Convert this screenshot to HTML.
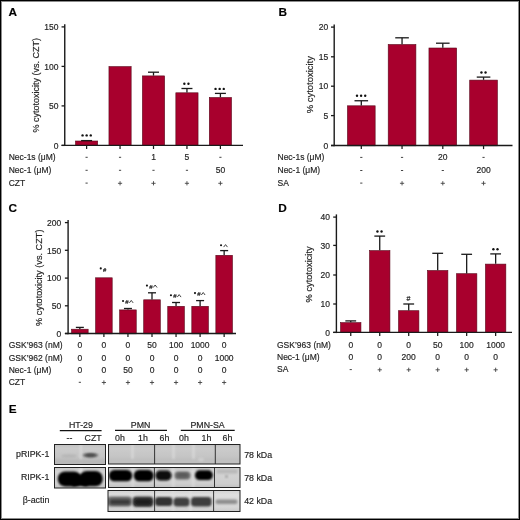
<!DOCTYPE html>
<html><head><meta charset="utf-8"><style>
html,body{margin:0;padding:0;background:#fff;}
body{width:520px;height:520px;overflow:hidden;position:relative;}
svg{position:absolute;left:0;top:0;display:block;will-change:transform;}
text{stroke:#2a2a2a;stroke-width:0.18px;}
</style></head><body>
<svg width="520" height="520" viewBox="0 0 520 520" font-family="'Liberation Sans', sans-serif">
<rect x="0" y="0" width="520" height="520" fill="#fff"/>
<line x1="61.55" y1="145.40" x2="64.75" y2="145.40" stroke="#1a1a1a" stroke-width="1.3"/>
<text x="58.50" y="148.60" font-size="8.5" text-anchor="end" font-weight="normal" fill="#1e1e1e" >0</text>
<line x1="61.55" y1="105.90" x2="64.75" y2="105.90" stroke="#1a1a1a" stroke-width="1.3"/>
<text x="58.50" y="109.10" font-size="8.5" text-anchor="end" font-weight="normal" fill="#1e1e1e" >50</text>
<line x1="61.55" y1="66.40" x2="64.75" y2="66.40" stroke="#1a1a1a" stroke-width="1.3"/>
<text x="58.50" y="69.60" font-size="8.5" text-anchor="end" font-weight="normal" fill="#1e1e1e" >100</text>
<line x1="61.55" y1="26.90" x2="64.75" y2="26.90" stroke="#1a1a1a" stroke-width="1.3"/>
<text x="58.50" y="30.10" font-size="8.5" text-anchor="end" font-weight="normal" fill="#1e1e1e" >150</text>
<rect x="75.50" y="141.00" width="22.20" height="4.70" fill="#a8002d" stroke="#58081a" stroke-width="0.6"/>
<line x1="86.60" y1="140.70" x2="86.60" y2="140.60" stroke="#1a1a1a" stroke-width="1.3"/>
<line x1="81.10" y1="140.60" x2="92.10" y2="140.60" stroke="#1a1a1a" stroke-width="1.3"/>
<line x1="86.60" y1="145.40" x2="86.60" y2="149.00" stroke="#1a1a1a" stroke-width="1.25"/>
<rect x="108.95" y="66.60" width="22.20" height="79.10" fill="#a8002d" stroke="#58081a" stroke-width="0.6"/>
<line x1="120.05" y1="145.40" x2="120.05" y2="149.00" stroke="#1a1a1a" stroke-width="1.25"/>
<rect x="142.40" y="75.90" width="22.20" height="69.80" fill="#a8002d" stroke="#58081a" stroke-width="0.6"/>
<line x1="153.50" y1="75.60" x2="153.50" y2="72.20" stroke="#1a1a1a" stroke-width="1.3"/>
<line x1="148.00" y1="72.20" x2="159.00" y2="72.20" stroke="#1a1a1a" stroke-width="1.3"/>
<line x1="153.50" y1="145.40" x2="153.50" y2="149.00" stroke="#1a1a1a" stroke-width="1.25"/>
<rect x="175.85" y="92.80" width="22.20" height="52.90" fill="#a8002d" stroke="#58081a" stroke-width="0.6"/>
<line x1="186.95" y1="92.50" x2="186.95" y2="88.50" stroke="#1a1a1a" stroke-width="1.3"/>
<line x1="181.45" y1="88.50" x2="192.45" y2="88.50" stroke="#1a1a1a" stroke-width="1.3"/>
<line x1="186.95" y1="145.40" x2="186.95" y2="149.00" stroke="#1a1a1a" stroke-width="1.25"/>
<rect x="209.30" y="97.50" width="22.20" height="48.20" fill="#a8002d" stroke="#58081a" stroke-width="0.6"/>
<line x1="220.40" y1="97.20" x2="220.40" y2="93.40" stroke="#1a1a1a" stroke-width="1.3"/>
<line x1="214.90" y1="93.40" x2="225.90" y2="93.40" stroke="#1a1a1a" stroke-width="1.3"/>
<line x1="220.40" y1="145.40" x2="220.40" y2="149.00" stroke="#1a1a1a" stroke-width="1.25"/>
<line x1="64.75" y1="24.20" x2="64.75" y2="146.10" stroke="#1a1a1a" stroke-width="1.4"/>
<line x1="61.55" y1="145.40" x2="243.00" y2="145.40" stroke="#1a1a1a" stroke-width="1.4"/>
<text transform="translate(38.7,85.2) rotate(-90)" font-size="9.0" text-anchor="middle" fill="#1e1e1e">% cytotoxicity (vs. CZT)</text>
<text x="8.60" y="16.10" font-size="11.8" text-anchor="start" font-weight="bold" fill="#000" >A</text>
<text x="8.70" y="159.70" font-size="8.5" text-anchor="start" font-weight="normal" fill="#1e1e1e" >Nec-1s (μM)</text>
<line x1="85.50" y1="157.30" x2="87.70" y2="157.30" stroke="#444" stroke-width="1.0"/>
<line x1="118.95" y1="157.30" x2="121.15" y2="157.30" stroke="#444" stroke-width="1.0"/>
<text x="153.50" y="159.70" font-size="8.5" text-anchor="middle" font-weight="normal" fill="#1e1e1e" >1</text>
<text x="186.95" y="159.70" font-size="8.5" text-anchor="middle" font-weight="normal" fill="#1e1e1e" >5</text>
<line x1="219.30" y1="157.30" x2="221.50" y2="157.30" stroke="#444" stroke-width="1.0"/>
<text x="8.70" y="172.70" font-size="8.5" text-anchor="start" font-weight="normal" fill="#1e1e1e" >Nec-1 (μM)</text>
<line x1="85.50" y1="170.30" x2="87.70" y2="170.30" stroke="#444" stroke-width="1.0"/>
<line x1="118.95" y1="170.30" x2="121.15" y2="170.30" stroke="#444" stroke-width="1.0"/>
<line x1="152.40" y1="170.30" x2="154.60" y2="170.30" stroke="#444" stroke-width="1.0"/>
<line x1="185.85" y1="170.30" x2="188.05" y2="170.30" stroke="#444" stroke-width="1.0"/>
<text x="220.40" y="172.70" font-size="8.5" text-anchor="middle" font-weight="normal" fill="#1e1e1e" >50</text>
<text x="8.70" y="185.50" font-size="8.5" text-anchor="start" font-weight="normal" fill="#1e1e1e" >CZT</text>
<line x1="85.50" y1="183.10" x2="87.70" y2="183.10" stroke="#444" stroke-width="1.0"/>
<line x1="117.95" y1="183.30" x2="122.15" y2="183.30" stroke="#444" stroke-width="0.9"/>
<line x1="120.05" y1="181.20" x2="120.05" y2="185.40" stroke="#444" stroke-width="0.9"/>
<line x1="151.40" y1="183.30" x2="155.60" y2="183.30" stroke="#444" stroke-width="0.9"/>
<line x1="153.50" y1="181.20" x2="153.50" y2="185.40" stroke="#444" stroke-width="0.9"/>
<line x1="184.85" y1="183.30" x2="189.05" y2="183.30" stroke="#444" stroke-width="0.9"/>
<line x1="186.95" y1="181.20" x2="186.95" y2="185.40" stroke="#444" stroke-width="0.9"/>
<line x1="218.30" y1="183.30" x2="222.50" y2="183.30" stroke="#444" stroke-width="0.9"/>
<line x1="220.40" y1="181.20" x2="220.40" y2="185.40" stroke="#444" stroke-width="0.9"/>
<line x1="331.00" y1="145.50" x2="334.20" y2="145.50" stroke="#1a1a1a" stroke-width="1.3"/>
<text x="328.30" y="148.70" font-size="8.5" text-anchor="end" font-weight="normal" fill="#1e1e1e" >0</text>
<line x1="331.00" y1="115.60" x2="334.20" y2="115.60" stroke="#1a1a1a" stroke-width="1.3"/>
<text x="328.30" y="118.80" font-size="8.5" text-anchor="end" font-weight="normal" fill="#1e1e1e" >5</text>
<line x1="331.00" y1="86.20" x2="334.20" y2="86.20" stroke="#1a1a1a" stroke-width="1.3"/>
<text x="328.30" y="89.40" font-size="8.5" text-anchor="end" font-weight="normal" fill="#1e1e1e" >10</text>
<line x1="331.00" y1="56.80" x2="334.20" y2="56.80" stroke="#1a1a1a" stroke-width="1.3"/>
<text x="328.30" y="60.00" font-size="8.5" text-anchor="end" font-weight="normal" fill="#1e1e1e" >15</text>
<line x1="331.00" y1="27.10" x2="334.20" y2="27.10" stroke="#1a1a1a" stroke-width="1.3"/>
<text x="328.30" y="30.30" font-size="8.5" text-anchor="end" font-weight="normal" fill="#1e1e1e" >20</text>
<rect x="347.45" y="105.80" width="27.70" height="40.00" fill="#a8002d" stroke="#58081a" stroke-width="0.6"/>
<line x1="361.30" y1="105.50" x2="361.30" y2="100.75" stroke="#1a1a1a" stroke-width="1.3"/>
<line x1="354.50" y1="100.75" x2="368.10" y2="100.75" stroke="#1a1a1a" stroke-width="1.3"/>
<line x1="361.30" y1="145.50" x2="361.30" y2="149.10" stroke="#1a1a1a" stroke-width="1.25"/>
<rect x="388.20" y="44.50" width="27.70" height="101.30" fill="#a8002d" stroke="#58081a" stroke-width="0.6"/>
<line x1="402.05" y1="44.20" x2="402.05" y2="37.80" stroke="#1a1a1a" stroke-width="1.3"/>
<line x1="395.25" y1="37.80" x2="408.85" y2="37.80" stroke="#1a1a1a" stroke-width="1.3"/>
<line x1="402.05" y1="145.50" x2="402.05" y2="149.10" stroke="#1a1a1a" stroke-width="1.25"/>
<rect x="428.95" y="48.00" width="27.70" height="97.80" fill="#a8002d" stroke="#58081a" stroke-width="0.6"/>
<line x1="442.80" y1="47.70" x2="442.80" y2="43.20" stroke="#1a1a1a" stroke-width="1.3"/>
<line x1="436.00" y1="43.20" x2="449.60" y2="43.20" stroke="#1a1a1a" stroke-width="1.3"/>
<line x1="442.80" y1="145.50" x2="442.80" y2="149.10" stroke="#1a1a1a" stroke-width="1.25"/>
<rect x="469.70" y="80.10" width="27.70" height="65.70" fill="#a8002d" stroke="#58081a" stroke-width="0.6"/>
<line x1="483.55" y1="79.80" x2="483.55" y2="77.10" stroke="#1a1a1a" stroke-width="1.3"/>
<line x1="476.75" y1="77.10" x2="490.35" y2="77.10" stroke="#1a1a1a" stroke-width="1.3"/>
<line x1="483.55" y1="145.50" x2="483.55" y2="149.10" stroke="#1a1a1a" stroke-width="1.25"/>
<line x1="334.20" y1="24.40" x2="334.20" y2="146.20" stroke="#1a1a1a" stroke-width="1.4"/>
<line x1="331.00" y1="145.50" x2="512.50" y2="145.50" stroke="#1a1a1a" stroke-width="1.4"/>
<text transform="translate(313.2,84.7) rotate(-90)" font-size="9.45" text-anchor="middle" fill="#1e1e1e">% cytotoxicity</text>
<text x="278.40" y="16.20" font-size="11.8" text-anchor="start" font-weight="bold" fill="#000" >B</text>
<text x="277.50" y="159.80" font-size="8.5" text-anchor="start" font-weight="normal" fill="#1e1e1e" >Nec-1s (μM)</text>
<line x1="360.20" y1="157.40" x2="362.40" y2="157.40" stroke="#444" stroke-width="1.0"/>
<line x1="400.95" y1="157.40" x2="403.15" y2="157.40" stroke="#444" stroke-width="1.0"/>
<text x="442.80" y="159.80" font-size="8.5" text-anchor="middle" font-weight="normal" fill="#1e1e1e" >20</text>
<line x1="482.45" y1="157.40" x2="484.65" y2="157.40" stroke="#444" stroke-width="1.0"/>
<text x="277.50" y="172.90" font-size="8.5" text-anchor="start" font-weight="normal" fill="#1e1e1e" >Nec-1 (μM)</text>
<line x1="360.20" y1="170.50" x2="362.40" y2="170.50" stroke="#444" stroke-width="1.0"/>
<line x1="400.95" y1="170.50" x2="403.15" y2="170.50" stroke="#444" stroke-width="1.0"/>
<line x1="441.70" y1="170.50" x2="443.90" y2="170.50" stroke="#444" stroke-width="1.0"/>
<text x="483.55" y="172.90" font-size="8.5" text-anchor="middle" font-weight="normal" fill="#1e1e1e" >200</text>
<text x="277.50" y="185.50" font-size="8.5" text-anchor="start" font-weight="normal" fill="#1e1e1e" >SA</text>
<line x1="360.20" y1="183.10" x2="362.40" y2="183.10" stroke="#444" stroke-width="1.0"/>
<line x1="399.95" y1="183.30" x2="404.15" y2="183.30" stroke="#444" stroke-width="0.9"/>
<line x1="402.05" y1="181.20" x2="402.05" y2="185.40" stroke="#444" stroke-width="0.9"/>
<line x1="440.70" y1="183.30" x2="444.90" y2="183.30" stroke="#444" stroke-width="0.9"/>
<line x1="442.80" y1="181.20" x2="442.80" y2="185.40" stroke="#444" stroke-width="0.9"/>
<line x1="481.45" y1="183.30" x2="485.65" y2="183.30" stroke="#444" stroke-width="0.9"/>
<line x1="483.55" y1="181.20" x2="483.55" y2="185.40" stroke="#444" stroke-width="0.9"/>
<line x1="64.90" y1="333.50" x2="68.10" y2="333.50" stroke="#1a1a1a" stroke-width="1.3"/>
<text x="61.30" y="336.70" font-size="8.5" text-anchor="end" font-weight="normal" fill="#1e1e1e" >0</text>
<line x1="64.90" y1="305.80" x2="68.10" y2="305.80" stroke="#1a1a1a" stroke-width="1.3"/>
<text x="61.30" y="309.00" font-size="8.5" text-anchor="end" font-weight="normal" fill="#1e1e1e" >50</text>
<line x1="64.90" y1="278.10" x2="68.10" y2="278.10" stroke="#1a1a1a" stroke-width="1.3"/>
<text x="61.30" y="281.30" font-size="8.5" text-anchor="end" font-weight="normal" fill="#1e1e1e" >100</text>
<line x1="64.90" y1="250.30" x2="68.10" y2="250.30" stroke="#1a1a1a" stroke-width="1.3"/>
<text x="61.30" y="253.50" font-size="8.5" text-anchor="end" font-weight="normal" fill="#1e1e1e" >150</text>
<line x1="64.90" y1="222.60" x2="68.10" y2="222.60" stroke="#1a1a1a" stroke-width="1.3"/>
<text x="61.30" y="225.80" font-size="8.5" text-anchor="end" font-weight="normal" fill="#1e1e1e" >200</text>
<rect x="71.55" y="329.20" width="16.60" height="4.60" fill="#a8002d" stroke="#58081a" stroke-width="0.6"/>
<line x1="79.85" y1="328.90" x2="79.85" y2="327.40" stroke="#1a1a1a" stroke-width="1.3"/>
<line x1="75.85" y1="327.40" x2="83.85" y2="327.40" stroke="#1a1a1a" stroke-width="1.3"/>
<line x1="79.85" y1="333.50" x2="79.85" y2="337.10" stroke="#1a1a1a" stroke-width="1.25"/>
<rect x="95.60" y="277.80" width="16.60" height="56.00" fill="#a8002d" stroke="#58081a" stroke-width="0.6"/>
<line x1="103.90" y1="333.50" x2="103.90" y2="337.10" stroke="#1a1a1a" stroke-width="1.25"/>
<rect x="119.65" y="309.90" width="16.60" height="23.90" fill="#a8002d" stroke="#58081a" stroke-width="0.6"/>
<line x1="127.95" y1="309.60" x2="127.95" y2="308.50" stroke="#1a1a1a" stroke-width="1.3"/>
<line x1="123.95" y1="308.50" x2="131.95" y2="308.50" stroke="#1a1a1a" stroke-width="1.3"/>
<line x1="127.95" y1="333.50" x2="127.95" y2="337.10" stroke="#1a1a1a" stroke-width="1.25"/>
<rect x="143.70" y="299.80" width="16.60" height="34.00" fill="#a8002d" stroke="#58081a" stroke-width="0.6"/>
<line x1="152.00" y1="299.50" x2="152.00" y2="292.80" stroke="#1a1a1a" stroke-width="1.3"/>
<line x1="148.00" y1="292.80" x2="156.00" y2="292.80" stroke="#1a1a1a" stroke-width="1.3"/>
<line x1="152.00" y1="333.50" x2="152.00" y2="337.10" stroke="#1a1a1a" stroke-width="1.25"/>
<rect x="167.75" y="306.30" width="16.60" height="27.50" fill="#a8002d" stroke="#58081a" stroke-width="0.6"/>
<line x1="176.05" y1="306.00" x2="176.05" y2="302.50" stroke="#1a1a1a" stroke-width="1.3"/>
<line x1="172.05" y1="302.50" x2="180.05" y2="302.50" stroke="#1a1a1a" stroke-width="1.3"/>
<line x1="176.05" y1="333.50" x2="176.05" y2="337.10" stroke="#1a1a1a" stroke-width="1.25"/>
<rect x="191.80" y="306.30" width="16.60" height="27.50" fill="#a8002d" stroke="#58081a" stroke-width="0.6"/>
<line x1="200.10" y1="306.00" x2="200.10" y2="300.60" stroke="#1a1a1a" stroke-width="1.3"/>
<line x1="196.10" y1="300.60" x2="204.10" y2="300.60" stroke="#1a1a1a" stroke-width="1.3"/>
<line x1="200.10" y1="333.50" x2="200.10" y2="337.10" stroke="#1a1a1a" stroke-width="1.25"/>
<rect x="215.85" y="255.30" width="16.60" height="78.50" fill="#a8002d" stroke="#58081a" stroke-width="0.6"/>
<line x1="224.15" y1="255.00" x2="224.15" y2="250.60" stroke="#1a1a1a" stroke-width="1.3"/>
<line x1="220.15" y1="250.60" x2="228.15" y2="250.60" stroke="#1a1a1a" stroke-width="1.3"/>
<line x1="224.15" y1="333.50" x2="224.15" y2="337.10" stroke="#1a1a1a" stroke-width="1.25"/>
<line x1="68.10" y1="219.90" x2="68.10" y2="334.20" stroke="#1a1a1a" stroke-width="1.4"/>
<line x1="64.90" y1="333.50" x2="236.00" y2="333.50" stroke="#1a1a1a" stroke-width="1.4"/>
<text transform="translate(42.2,277.7) rotate(-90)" font-size="9.2" text-anchor="middle" fill="#1e1e1e">% cytotoxicity (vs. CZT)</text>
<text x="8.50" y="212.00" font-size="11.8" text-anchor="start" font-weight="bold" fill="#000" >C</text>
<text x="8.70" y="347.50" font-size="8.5" text-anchor="start" font-weight="normal" fill="#1e1e1e" >GSK’963 (nM)</text>
<text x="79.85" y="347.50" font-size="8.5" text-anchor="middle" font-weight="normal" fill="#1e1e1e" >0</text>
<text x="103.90" y="347.50" font-size="8.5" text-anchor="middle" font-weight="normal" fill="#1e1e1e" >0</text>
<text x="127.95" y="347.50" font-size="8.5" text-anchor="middle" font-weight="normal" fill="#1e1e1e" >0</text>
<text x="152.00" y="347.50" font-size="8.5" text-anchor="middle" font-weight="normal" fill="#1e1e1e" >50</text>
<text x="176.05" y="347.50" font-size="8.5" text-anchor="middle" font-weight="normal" fill="#1e1e1e" >100</text>
<text x="200.10" y="347.50" font-size="8.5" text-anchor="middle" font-weight="normal" fill="#1e1e1e" >1000</text>
<text x="224.15" y="347.50" font-size="8.5" text-anchor="middle" font-weight="normal" fill="#1e1e1e" >0</text>
<text x="8.70" y="360.50" font-size="8.5" text-anchor="start" font-weight="normal" fill="#1e1e1e" >GSK’962 (nM)</text>
<text x="79.85" y="360.50" font-size="8.5" text-anchor="middle" font-weight="normal" fill="#1e1e1e" >0</text>
<text x="103.90" y="360.50" font-size="8.5" text-anchor="middle" font-weight="normal" fill="#1e1e1e" >0</text>
<text x="127.95" y="360.50" font-size="8.5" text-anchor="middle" font-weight="normal" fill="#1e1e1e" >0</text>
<text x="152.00" y="360.50" font-size="8.5" text-anchor="middle" font-weight="normal" fill="#1e1e1e" >0</text>
<text x="176.05" y="360.50" font-size="8.5" text-anchor="middle" font-weight="normal" fill="#1e1e1e" >0</text>
<text x="200.10" y="360.50" font-size="8.5" text-anchor="middle" font-weight="normal" fill="#1e1e1e" >0</text>
<text x="224.15" y="360.50" font-size="8.5" text-anchor="middle" font-weight="normal" fill="#1e1e1e" >1000</text>
<text x="8.70" y="372.50" font-size="8.5" text-anchor="start" font-weight="normal" fill="#1e1e1e" >Nec-1 (μM)</text>
<text x="79.85" y="372.50" font-size="8.5" text-anchor="middle" font-weight="normal" fill="#1e1e1e" >0</text>
<text x="103.90" y="372.50" font-size="8.5" text-anchor="middle" font-weight="normal" fill="#1e1e1e" >0</text>
<text x="127.95" y="372.50" font-size="8.5" text-anchor="middle" font-weight="normal" fill="#1e1e1e" >50</text>
<text x="152.00" y="372.50" font-size="8.5" text-anchor="middle" font-weight="normal" fill="#1e1e1e" >0</text>
<text x="176.05" y="372.50" font-size="8.5" text-anchor="middle" font-weight="normal" fill="#1e1e1e" >0</text>
<text x="200.10" y="372.50" font-size="8.5" text-anchor="middle" font-weight="normal" fill="#1e1e1e" >0</text>
<text x="224.15" y="372.50" font-size="8.5" text-anchor="middle" font-weight="normal" fill="#1e1e1e" >0</text>
<text x="8.70" y="384.70" font-size="8.5" text-anchor="start" font-weight="normal" fill="#1e1e1e" >CZT</text>
<line x1="78.75" y1="382.30" x2="80.95" y2="382.30" stroke="#444" stroke-width="1.0"/>
<line x1="101.80" y1="382.50" x2="106.00" y2="382.50" stroke="#444" stroke-width="0.9"/>
<line x1="103.90" y1="380.40" x2="103.90" y2="384.60" stroke="#444" stroke-width="0.9"/>
<line x1="125.85" y1="382.50" x2="130.05" y2="382.50" stroke="#444" stroke-width="0.9"/>
<line x1="127.95" y1="380.40" x2="127.95" y2="384.60" stroke="#444" stroke-width="0.9"/>
<line x1="149.90" y1="382.50" x2="154.10" y2="382.50" stroke="#444" stroke-width="0.9"/>
<line x1="152.00" y1="380.40" x2="152.00" y2="384.60" stroke="#444" stroke-width="0.9"/>
<line x1="173.95" y1="382.50" x2="178.15" y2="382.50" stroke="#444" stroke-width="0.9"/>
<line x1="176.05" y1="380.40" x2="176.05" y2="384.60" stroke="#444" stroke-width="0.9"/>
<line x1="198.00" y1="382.50" x2="202.20" y2="382.50" stroke="#444" stroke-width="0.9"/>
<line x1="200.10" y1="380.40" x2="200.10" y2="384.60" stroke="#444" stroke-width="0.9"/>
<line x1="222.05" y1="382.50" x2="226.25" y2="382.50" stroke="#444" stroke-width="0.9"/>
<line x1="224.15" y1="380.40" x2="224.15" y2="384.60" stroke="#444" stroke-width="0.9"/>
<line x1="333.20" y1="332.40" x2="336.40" y2="332.40" stroke="#1a1a1a" stroke-width="1.3"/>
<text x="329.90" y="335.60" font-size="8.5" text-anchor="end" font-weight="normal" fill="#1e1e1e" >0</text>
<line x1="333.20" y1="304.00" x2="336.40" y2="304.00" stroke="#1a1a1a" stroke-width="1.3"/>
<text x="329.90" y="307.20" font-size="8.5" text-anchor="end" font-weight="normal" fill="#1e1e1e" >10</text>
<line x1="333.20" y1="275.00" x2="336.40" y2="275.00" stroke="#1a1a1a" stroke-width="1.3"/>
<text x="329.90" y="278.20" font-size="8.5" text-anchor="end" font-weight="normal" fill="#1e1e1e" >20</text>
<line x1="333.20" y1="245.40" x2="336.40" y2="245.40" stroke="#1a1a1a" stroke-width="1.3"/>
<text x="329.90" y="248.60" font-size="8.5" text-anchor="end" font-weight="normal" fill="#1e1e1e" >30</text>
<line x1="333.20" y1="217.10" x2="336.40" y2="217.10" stroke="#1a1a1a" stroke-width="1.3"/>
<text x="329.90" y="220.30" font-size="8.5" text-anchor="end" font-weight="normal" fill="#1e1e1e" >40</text>
<rect x="340.55" y="322.60" width="20.40" height="10.10" fill="#a8002d" stroke="#58081a" stroke-width="0.6"/>
<line x1="350.75" y1="322.30" x2="350.75" y2="320.90" stroke="#1a1a1a" stroke-width="1.3"/>
<line x1="345.35" y1="320.90" x2="356.15" y2="320.90" stroke="#1a1a1a" stroke-width="1.3"/>
<line x1="350.75" y1="332.40" x2="350.75" y2="336.00" stroke="#1a1a1a" stroke-width="1.25"/>
<rect x="369.53" y="250.60" width="20.40" height="82.10" fill="#a8002d" stroke="#58081a" stroke-width="0.6"/>
<line x1="379.73" y1="250.30" x2="379.73" y2="236.10" stroke="#1a1a1a" stroke-width="1.3"/>
<line x1="374.33" y1="236.10" x2="385.13" y2="236.10" stroke="#1a1a1a" stroke-width="1.3"/>
<line x1="379.73" y1="332.40" x2="379.73" y2="336.00" stroke="#1a1a1a" stroke-width="1.25"/>
<rect x="398.51" y="310.70" width="20.40" height="22.00" fill="#a8002d" stroke="#58081a" stroke-width="0.6"/>
<line x1="408.71" y1="310.40" x2="408.71" y2="304.00" stroke="#1a1a1a" stroke-width="1.3"/>
<line x1="403.31" y1="304.00" x2="414.11" y2="304.00" stroke="#1a1a1a" stroke-width="1.3"/>
<line x1="408.71" y1="332.40" x2="408.71" y2="336.00" stroke="#1a1a1a" stroke-width="1.25"/>
<rect x="427.49" y="270.50" width="20.40" height="62.20" fill="#a8002d" stroke="#58081a" stroke-width="0.6"/>
<line x1="437.69" y1="270.20" x2="437.69" y2="253.30" stroke="#1a1a1a" stroke-width="1.3"/>
<line x1="432.29" y1="253.30" x2="443.09" y2="253.30" stroke="#1a1a1a" stroke-width="1.3"/>
<line x1="437.69" y1="332.40" x2="437.69" y2="336.00" stroke="#1a1a1a" stroke-width="1.25"/>
<rect x="456.47" y="273.70" width="20.40" height="59.00" fill="#a8002d" stroke="#58081a" stroke-width="0.6"/>
<line x1="466.67" y1="273.40" x2="466.67" y2="254.30" stroke="#1a1a1a" stroke-width="1.3"/>
<line x1="461.27" y1="254.30" x2="472.07" y2="254.30" stroke="#1a1a1a" stroke-width="1.3"/>
<line x1="466.67" y1="332.40" x2="466.67" y2="336.00" stroke="#1a1a1a" stroke-width="1.25"/>
<rect x="485.45" y="264.10" width="20.40" height="68.60" fill="#a8002d" stroke="#58081a" stroke-width="0.6"/>
<line x1="495.65" y1="263.80" x2="495.65" y2="253.90" stroke="#1a1a1a" stroke-width="1.3"/>
<line x1="490.25" y1="253.90" x2="501.05" y2="253.90" stroke="#1a1a1a" stroke-width="1.3"/>
<line x1="495.65" y1="332.40" x2="495.65" y2="336.00" stroke="#1a1a1a" stroke-width="1.25"/>
<line x1="336.40" y1="214.40" x2="336.40" y2="333.10" stroke="#1a1a1a" stroke-width="1.4"/>
<line x1="333.20" y1="332.40" x2="512.00" y2="332.40" stroke="#1a1a1a" stroke-width="1.4"/>
<text transform="translate(311.8,274.4) rotate(-90)" font-size="9.25" text-anchor="middle" fill="#1e1e1e">% cytotoxicity</text>
<text x="278.30" y="211.80" font-size="11.8" text-anchor="start" font-weight="bold" fill="#000" >D</text>
<text x="277.00" y="347.50" font-size="8.5" text-anchor="start" font-weight="normal" fill="#1e1e1e" >GSK’963 (nM)</text>
<text x="350.75" y="347.50" font-size="8.5" text-anchor="middle" font-weight="normal" fill="#1e1e1e" >0</text>
<text x="379.73" y="347.50" font-size="8.5" text-anchor="middle" font-weight="normal" fill="#1e1e1e" >0</text>
<text x="408.71" y="347.50" font-size="8.5" text-anchor="middle" font-weight="normal" fill="#1e1e1e" >0</text>
<text x="437.69" y="347.50" font-size="8.5" text-anchor="middle" font-weight="normal" fill="#1e1e1e" >50</text>
<text x="466.67" y="347.50" font-size="8.5" text-anchor="middle" font-weight="normal" fill="#1e1e1e" >100</text>
<text x="495.65" y="347.50" font-size="8.5" text-anchor="middle" font-weight="normal" fill="#1e1e1e" >1000</text>
<text x="277.00" y="360.00" font-size="8.5" text-anchor="start" font-weight="normal" fill="#1e1e1e" >Nec-1 (μM)</text>
<text x="350.75" y="360.00" font-size="8.5" text-anchor="middle" font-weight="normal" fill="#1e1e1e" >0</text>
<text x="379.73" y="360.00" font-size="8.5" text-anchor="middle" font-weight="normal" fill="#1e1e1e" >0</text>
<text x="408.71" y="360.00" font-size="8.5" text-anchor="middle" font-weight="normal" fill="#1e1e1e" >200</text>
<text x="437.69" y="360.00" font-size="8.5" text-anchor="middle" font-weight="normal" fill="#1e1e1e" >0</text>
<text x="466.67" y="360.00" font-size="8.5" text-anchor="middle" font-weight="normal" fill="#1e1e1e" >0</text>
<text x="495.65" y="360.00" font-size="8.5" text-anchor="middle" font-weight="normal" fill="#1e1e1e" >0</text>
<text x="277.00" y="372.00" font-size="8.5" text-anchor="start" font-weight="normal" fill="#1e1e1e" >SA</text>
<line x1="349.65" y1="369.60" x2="351.85" y2="369.60" stroke="#444" stroke-width="1.0"/>
<line x1="377.63" y1="369.80" x2="381.83" y2="369.80" stroke="#444" stroke-width="0.9"/>
<line x1="379.73" y1="367.70" x2="379.73" y2="371.90" stroke="#444" stroke-width="0.9"/>
<line x1="406.61" y1="369.80" x2="410.81" y2="369.80" stroke="#444" stroke-width="0.9"/>
<line x1="408.71" y1="367.70" x2="408.71" y2="371.90" stroke="#444" stroke-width="0.9"/>
<line x1="435.59" y1="369.80" x2="439.79" y2="369.80" stroke="#444" stroke-width="0.9"/>
<line x1="437.69" y1="367.70" x2="437.69" y2="371.90" stroke="#444" stroke-width="0.9"/>
<line x1="464.57" y1="369.80" x2="468.77" y2="369.80" stroke="#444" stroke-width="0.9"/>
<line x1="466.67" y1="367.70" x2="466.67" y2="371.90" stroke="#444" stroke-width="0.9"/>
<line x1="493.55" y1="369.80" x2="497.75" y2="369.80" stroke="#444" stroke-width="0.9"/>
<line x1="495.65" y1="367.70" x2="495.65" y2="371.90" stroke="#444" stroke-width="0.9"/>
<circle cx="82.55" cy="135.4" r="1.2" fill="#111"/>
<circle cx="86.65" cy="135.4" r="1.2" fill="#111"/>
<circle cx="90.75" cy="135.4" r="1.2" fill="#111"/>
<circle cx="184.35" cy="83.7" r="1.2" fill="#111"/>
<circle cx="188.45" cy="83.7" r="1.2" fill="#111"/>
<circle cx="215.55" cy="88.9" r="1.2" fill="#111"/>
<circle cx="219.65" cy="88.9" r="1.2" fill="#111"/>
<circle cx="223.75" cy="88.9" r="1.2" fill="#111"/>
<circle cx="357.00" cy="95.8" r="1.2" fill="#111"/>
<circle cx="361.10" cy="95.8" r="1.2" fill="#111"/>
<circle cx="365.20" cy="95.8" r="1.2" fill="#111"/>
<circle cx="481.45" cy="72.5" r="1.2" fill="#111"/>
<circle cx="485.55" cy="72.5" r="1.2" fill="#111"/>
<circle cx="377.45" cy="231.5" r="1.2" fill="#111"/>
<circle cx="381.55" cy="231.5" r="1.2" fill="#111"/>
<text x="408.50" y="300.70" font-size="7" text-anchor="middle" font-weight="normal" fill="#1e1e1e" >#</text>
<circle cx="493.40" cy="249.2" r="1.2" fill="#111"/>
<circle cx="497.50" cy="249.2" r="1.2" fill="#111"/>
<circle cx="100.75" cy="268.40" r="1.05" fill="#111"/>
<text x="104.65" y="271.60" font-size="6" text-anchor="middle" font-weight="bold" fill="#222" >#</text>
<circle cx="123.05" cy="301.00" r="1.05" fill="#111"/>
<text x="126.95" y="304.20" font-size="6" text-anchor="middle" font-weight="bold" fill="#222" >#</text>
<polyline points="129.35,302.90 131.25,300.40 133.15,302.90" fill="none" stroke="#222" stroke-width="0.85"/>
<circle cx="146.95" cy="285.60" r="1.05" fill="#111"/>
<text x="150.85" y="288.80" font-size="6" text-anchor="middle" font-weight="bold" fill="#222" >#</text>
<polyline points="153.25,287.50 155.15,285.00 157.05,287.50" fill="none" stroke="#222" stroke-width="0.85"/>
<circle cx="170.95" cy="295.20" r="1.05" fill="#111"/>
<text x="174.85" y="298.40" font-size="6" text-anchor="middle" font-weight="bold" fill="#222" >#</text>
<polyline points="177.25,297.10 179.15,294.60 181.05,297.10" fill="none" stroke="#222" stroke-width="0.85"/>
<circle cx="195.00" cy="293.10" r="1.05" fill="#111"/>
<text x="198.90" y="296.30" font-size="6" text-anchor="middle" font-weight="bold" fill="#222" >#</text>
<polyline points="201.30,295.00 203.20,292.50 205.10,295.00" fill="none" stroke="#222" stroke-width="0.85"/>
<circle cx="221.05" cy="245.20" r="1.05" fill="#111"/>
<polyline points="223.65,247.10 225.55,244.60 227.45,247.10" fill="none" stroke="#222" stroke-width="0.85"/>
<text x="8.70" y="412.80" font-size="11.8" text-anchor="start" font-weight="bold" fill="#000" >E</text>
<defs>
<filter id="b1" x="-50%" y="-80%" width="200%" height="260%"><feGaussianBlur stdDeviation="1.3"/></filter>
<filter id="b2" x="-50%" y="-80%" width="200%" height="260%"><feGaussianBlur stdDeviation="0.9"/></filter>
<filter id="b3" x="-50%" y="-80%" width="200%" height="260%"><feGaussianBlur stdDeviation="2.2"/></filter>
<linearGradient id="gp" x1="0" y1="0" x2="0" y2="1"><stop offset="0" stop-color="#c2c2c2"/><stop offset="0.2" stop-color="#cbcbcb"/><stop offset="0.6" stop-color="#c5c5c5"/><stop offset="1" stop-color="#b8b8b8"/></linearGradient>
<linearGradient id="gr" x1="0" y1="0" x2="0" y2="1"><stop offset="0" stop-color="#c8c8c8"/><stop offset="0.2" stop-color="#d4d4d4"/><stop offset="0.8" stop-color="#cecece"/><stop offset="1" stop-color="#c2c2c2"/></linearGradient>
<linearGradient id="ga" x1="0" y1="0" x2="0" y2="1"><stop offset="0" stop-color="#d2d2d2"/><stop offset="0.2" stop-color="#dedede"/><stop offset="0.8" stop-color="#d6d6d6"/><stop offset="1" stop-color="#cacaca"/></linearGradient>
</defs>
<text x="80.9" y="428.3" font-size="8.8" text-anchor="middle" fill="#1e1e1e">HT-29</text>
<line x1="59.8" y1="430.7" x2="101.6" y2="430.7" stroke="#111" stroke-width="1.2"/>
<text x="69.5" y="441.2" font-size="8.8" text-anchor="middle" fill="#1e1e1e">--</text>
<text x="93.1" y="441.2" font-size="8.8" text-anchor="middle" fill="#1e1e1e">CZT</text>
<text x="140.6" y="428.3" font-size="8.8" text-anchor="middle" fill="#1e1e1e">PMN</text>
<line x1="115" y1="430.4" x2="167" y2="430.4" stroke="#111" stroke-width="1.2"/>
<text x="207.6" y="428.3" font-size="8.8" text-anchor="middle" fill="#1e1e1e">PMN-SA</text>
<line x1="180.8" y1="430.4" x2="234.7" y2="430.4" stroke="#111" stroke-width="1.2"/>
<text x="120" y="441.2" font-size="8.8" text-anchor="middle" fill="#1e1e1e">0h</text>
<text x="143" y="441.2" font-size="8.8" text-anchor="middle" fill="#1e1e1e">1h</text>
<text x="164.5" y="441.2" font-size="8.8" text-anchor="middle" fill="#1e1e1e">6h</text>
<text x="184" y="441.2" font-size="8.8" text-anchor="middle" fill="#1e1e1e">0h</text>
<text x="206.5" y="441.2" font-size="8.8" text-anchor="middle" fill="#1e1e1e">1h</text>
<text x="227.5" y="441.2" font-size="8.8" text-anchor="middle" fill="#1e1e1e">6h</text>
<text x="49.3" y="456.6" font-size="8.8" text-anchor="end" fill="#1e1e1e">pRIPK-1</text>
<text x="49.3" y="480.0" font-size="8.8" text-anchor="end" fill="#1e1e1e">RIPK-1</text>
<text x="49.3" y="503.0" font-size="8.8" text-anchor="end" fill="#1e1e1e">β-actin</text>
<text x="244.2" y="458.0" font-size="8.8" text-anchor="start" fill="#1e1e1e">78 kDa</text>
<text x="244.2" y="481.2" font-size="8.8" text-anchor="start" fill="#1e1e1e">78 kDa</text>
<text x="244.2" y="504.2" font-size="8.8" text-anchor="start" fill="#1e1e1e">42 kDa</text>
<defs>
<clipPath id="chp"><rect x="54.5" y="444.5" width="51.0" height="20.0"/></clipPath>
<clipPath id="chr"><rect x="54.5" y="467.5" width="51.0" height="20.5"/></clipPath>
<clipPath id="cpp"><rect x="108.5" y="444.5" width="131.5" height="19.5"/></clipPath>
<clipPath id="cpr"><rect x="108.5" y="467.5" width="131.5" height="20.0"/></clipPath>
<clipPath id="cpa"><rect x="108.0" y="490.5" width="132.0" height="21.0"/></clipPath>
</defs>
<rect x="54.5" y="444.5" width="51.0" height="20.0" fill="url(#gp)"/>
<rect x="54.5" y="467.5" width="51.0" height="20.5" fill="url(#gr)"/>
<rect x="108.5" y="444.5" width="131.5" height="19.5" fill="url(#gp)"/>
<rect x="108.5" y="467.5" width="131.5" height="20.0" fill="url(#gr)"/>
<rect x="108.0" y="490.5" width="132.0" height="21.0" fill="url(#ga)"/>
<g clip-path="url(#chp)">
<rect x="79.3" y="444" width="3" height="21" fill="#e0e0e0" opacity="0.55" filter="url(#b1)"/>
</g>
<g clip-path="url(#chr)">
<rect x="79.3" y="467" width="3" height="21" fill="#e0e0e0" opacity="0.9" filter="url(#b1)"/>
</g>
<g clip-path="url(#cpp)">
<rect x="131.0" y="444" width="3" height="20" fill="#e0e0e0" opacity="0.55" filter="url(#b1)"/>
<rect x="172.0" y="444" width="3" height="20" fill="#e0e0e0" opacity="0.55" filter="url(#b1)"/>
<rect x="192.0" y="444" width="3" height="20" fill="#e0e0e0" opacity="0.55" filter="url(#b1)"/>
</g>
<g clip-path="url(#cpr)">
<rect x="131.3" y="467" width="3" height="21" fill="#e0e0e0" opacity="0.55" filter="url(#b1)"/>
<rect x="171.8" y="467" width="3" height="21" fill="#e0e0e0" opacity="0.55" filter="url(#b1)"/>
<rect x="191.7" y="467" width="3" height="21" fill="#e0e0e0" opacity="0.55" filter="url(#b1)"/>
</g>
<g clip-path="url(#cpa)">
<rect x="130.8" y="490" width="3" height="22" fill="#e0e0e0" opacity="0.55" filter="url(#b1)"/>
<rect x="171.8" y="490" width="3" height="22" fill="#e0e0e0" opacity="0.55" filter="url(#b1)"/>
<rect x="189.0" y="490" width="3" height="22" fill="#e0e0e0" opacity="0.55" filter="url(#b1)"/>
</g>
<g clip-path="url(#chp)">
<rect x="54" y="459.5" width="52" height="5" fill="#b8b8b8" filter="url(#b1)"/>
<ellipse cx="90.5" cy="455.3" rx="8" ry="2.2" fill="#666" filter="url(#b1)"/>
<ellipse cx="90.5" cy="455.3" rx="5" ry="1.2" fill="#444" filter="url(#b2)"/>
<ellipse cx="69" cy="456" rx="8" ry="1.6" fill="#b4b4b4" filter="url(#b1)"/>
</g>
<g clip-path="url(#chr)">
<rect x="57.8" y="471.4" width="23.5" height="15" rx="7.2" fill="#040404" filter="url(#b2)"/>
<rect x="79.5" y="471.0" width="23.2" height="15.3" rx="7.2" fill="#040404" filter="url(#b2)"/>
<rect x="72" y="475" width="16" height="11.3" rx="2" fill="#040404" filter="url(#b2)"/>
</g>
<g clip-path="url(#cpp)">
<rect x="108" y="459" width="133" height="6" fill="#c0c0c0" filter="url(#b1)"/>
<ellipse cx="201" cy="459.5" rx="3" ry="1.5" fill="#ddd" opacity="0.6" filter="url(#b2)"/>
</g>
<g clip-path="url(#cpr)">
<rect x="109.0" y="470.0" width="23.2" height="11.2" rx="5.3" fill="#050505" filter="url(#b2)"/>
<rect x="133.8" y="470.0" width="19.8" height="11.2" rx="5.3" fill="#050505" filter="url(#b2)"/>
<rect x="155.4" y="470.6" width="16.2" height="9.8" rx="4.6" fill="#070707" filter="url(#b2)"/>
<rect x="174.5" y="471.4" width="16" height="8" rx="3.7" fill="#6e6e6e" filter="url(#b1)"/>
<rect x="177" y="473" width="11" height="4.5" rx="2" fill="#5a5a5a" filter="url(#b1)"/>
<rect x="195.0" y="470.3" width="17.8" height="9.8" rx="4.6" fill="#060606" filter="url(#b2)"/>
<rect x="216" y="469.5" width="22" height="4" rx="2" fill="#b8b8b8" filter="url(#b1)"/>
<circle cx="226.5" cy="476.5" r="0.9" fill="#666" filter="url(#b2)"/>
</g>
<g clip-path="url(#cpa)">
<rect x="107" y="496.5" width="25" height="10" rx="4" fill="#6a6a6a" filter="url(#b1)"/>
<rect x="110" y="499.5" width="20" height="5" rx="2" fill="#3a3a3a" filter="url(#b1)"/>
<rect x="132.5" y="496.5" width="21" height="10.5" rx="4" fill="#3a3a3a" filter="url(#b1)"/>
<rect x="134.5" y="499" width="17" height="6" rx="3" fill="#1e1e1e" filter="url(#b1)"/>
<rect x="155" y="497" width="17.5" height="9" rx="3.5" fill="#333" filter="url(#b1)"/>
<rect x="173.5" y="497.5" width="16" height="9" rx="3.5" fill="#404040" filter="url(#b1)"/>
<rect x="191" y="497" width="20.5" height="9.5" rx="3.5" fill="#3c3c3c" filter="url(#b1)"/>
<rect x="215.5" y="499.5" width="22" height="4.5" rx="2" fill="#8e8e8e" filter="url(#b1)"/>
</g>
<rect x="54.5" y="444.5" width="51.0" height="20.0" fill="none" stroke="#222" stroke-width="1"/>
<rect x="54.5" y="467.5" width="51.0" height="20.5" fill="none" stroke="#222" stroke-width="1"/>
<rect x="108.5" y="444.5" width="131.5" height="19.5" fill="none" stroke="#222" stroke-width="1"/>
<rect x="108.5" y="467.5" width="131.5" height="20.0" fill="none" stroke="#222" stroke-width="1"/>
<rect x="108.0" y="490.5" width="132.0" height="21.0" fill="none" stroke="#222" stroke-width="1"/>
<line x1="154.6" y1="444" x2="154.6" y2="464" stroke="#222" stroke-width="0.9"/>
<line x1="215.3" y1="444" x2="215.3" y2="464" stroke="#222" stroke-width="0.9"/>
<line x1="154.4" y1="467" x2="154.4" y2="487.5" stroke="#222" stroke-width="0.9"/>
<line x1="214.5" y1="467" x2="214.5" y2="487.5" stroke="#222" stroke-width="0.9"/>
<line x1="154.6" y1="490.5" x2="154.6" y2="512" stroke="#222" stroke-width="0.9"/>
<line x1="213.6" y1="490.5" x2="213.6" y2="512" stroke="#222" stroke-width="0.9"/>
<rect x="0.5" y="0.5" width="519" height="519" fill="none" stroke="#000" stroke-width="1"/>
<rect x="1.5" y="1.5" width="517" height="517" fill="none" stroke="#8c8c8c" stroke-width="1"/>
</svg>
</body></html>
